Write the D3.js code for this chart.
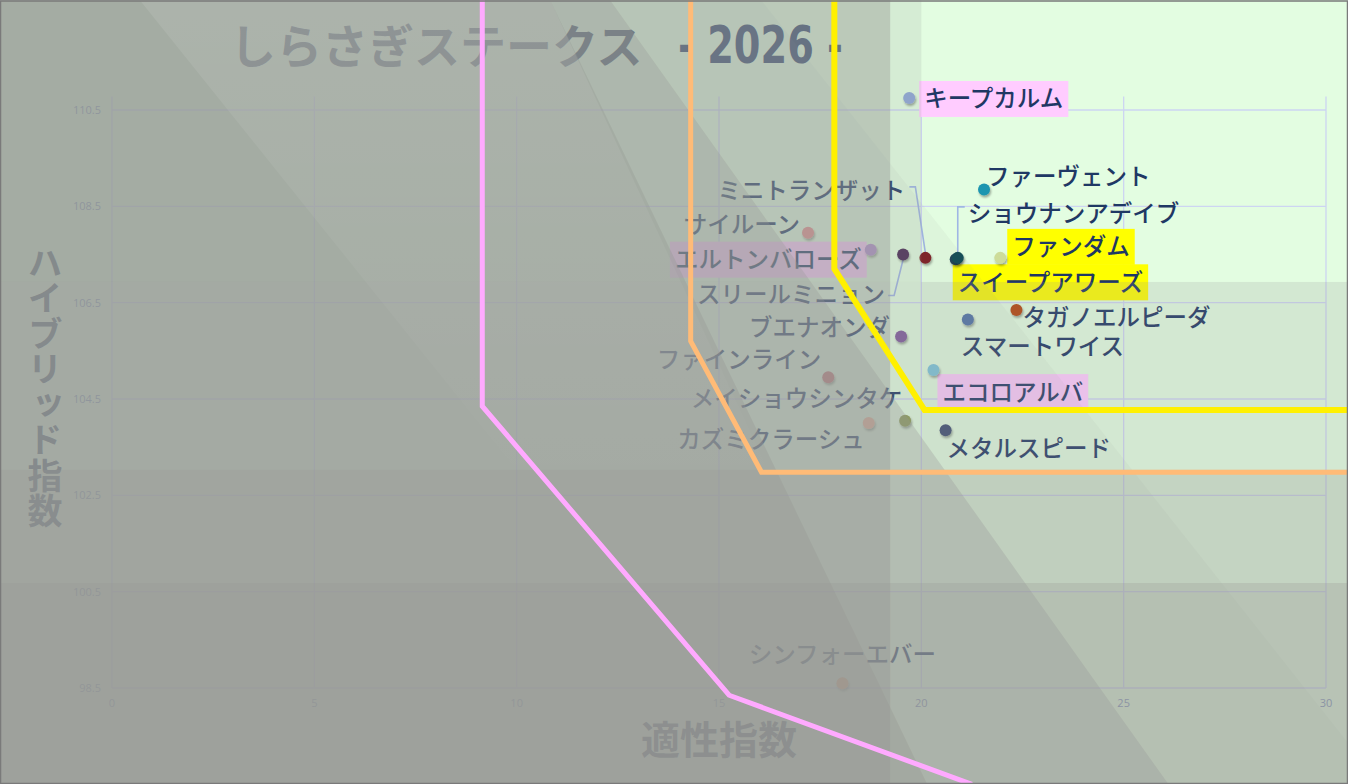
<!DOCTYPE html>
<html><head><meta charset="utf-8">
<script src="https://cdn.jsdelivr.net/npm/d3@7"></script>
<style>html,body{margin:0;padding:0;background:#9d9f9b;} svg{display:block}</style>
</head><body>
<svg id="c" width="1348" height="784"></svg>
<script>
// ---------------- data ----------------
const horses = ["キープカルム","ファーヴェント","ミニトランザット","スイープアワーズ","ショウナンアデイブ","ファンダム","サイルーン","エルトンバローズ","スリールミニョン","ブエナオンダ","ファインライン","メイショウシンタケ","カズミクラーシュ","タガノエルピーダ","スマートワイス","エコロアルバ","メタルスピード","シンフォーエバー"];
const tekisei = [19.7,21.55,20.1,20.85,20.9,21.95,17.2,18.75,19.55,19.5,17.7,19.6,18.7,22.35,21.15,20.3,20.6,18.05];
const hybrid  = [110.75,108.85,107.43,107.4,107.43,107.43,107.95,107.6,107.5,105.8,104.95,104.05,104.0,106.35,106.15,105.1,103.85,98.6];
const highlight = ["pink","","","yellow","","yellow","","pink","","","","","","","","pink","",""];
const xTicks = [0,5,10,15,20,25,30];
const yTicks = [98.5,100.5,102.5,104.5,106.5,108.5,110.5];
const titleMain = "しらさぎステークス";
const titleYear = "- 2026 -";
const xTitle = "適性指数";
const yTitle = "ハイブリッド指数";
// threshold polylines (data coordinates)
const pinkX = [9.15,9.15,15.25,21.25],  pinkY = [112.8,104.35,98.35,96.5];
const orangeX = [14.3,14.3,16.05,30.6], orangeY = [112.8,105.7,102.98,102.98];
const yellowX = [17.85,17.85,20.08,30.6], yellowY = [112.8,107.2,104.27,104.27];

// ---------------- layout / style ----------------
const W=1348,H=784;
const pointColors = ["#8ea6d6","#1d95b0","#7b1e22","#1b3f55","#0c4a52","#cddc9a","#e88c8c","#b78ed4","#4a2b55","#7e5a9c","#c56f73","#8c9c55","#f5b596","#b4450f","#4c6fa8","#7cc6dc","#3b4d6f","#f59b6a"];
const labelLayout = [
 {dx:15,dy:1,a:"start"},
 {dx:2,dy:-13,a:"start"},
 {dx:-20,dy:-67,a:"end",lead:"endRight"},
 {dx:2,dy:23,a:"start"},
 {dx:10,dy:-44,a:"start",lead:"startLeft"},
 {dx:12,dy:-11,a:"start"},
 {dx:-8,dy:-8,a:"end"},
 {dx:-9,dy:10,a:"end"},
 {dx:-18,dy:40,a:"end",lead:"endRightUp"},
 {dx:-11,dy:-9,a:"end"},
 {dx:-7,dy:-18,a:"end"},
 {dx:-3,dy:-22,a:"end"},
 {dx:-4,dy:16,a:"end"},
 {dx:6,dy:8,a:"start"},
 {dx:-7,dy:27,a:"start"},
 {dx:9,dy:22,a:"start"},
 {dx:1,dy:18,a:"start"},
 {dx:0,dy:-29,a:"middle"}
];

const svg=d3.select('#c');
const x=d3.scaleLinear().domain([0,30]).range([112,1326]);
const y=d3.scaleLinear().domain([98.5,110.5]).range([688,110]);
const JP = "'Noto Sans CJK JP','Noto Sans',sans-serif";
const GRAY = "#969895";

const defs=svg.append('defs');
const f=defs.append('filter').attr('id','sh').attr('x','-50%').attr('y','-50%').attr('width','200%').attr('height','200%');
f.append('feDropShadow').attr('dx',1).attr('dy',2).attr('stdDeviation',1.2).attr('flood-color','#000').attr('flood-opacity',0.35);

// base
svg.append('rect').attr('width',W).attr('height',H).attr('fill','#e3fde1');

// grid
const g=svg.append('g');
g.selectAll('.vg').data(xTicks).join('line')
 .attr('x1',d=>x(d)).attr('x2',d=>x(d)).attr('y1',y(110.78)).attr('y2',y(98.5))
 .attr('stroke','#cdd5f2').attr('stroke-width',1.3);
g.selectAll('.hg').data(yTicks).join('line')
 .attr('x1',x(0)).attr('x2',x(30)).attr('y1',d=>y(d)).attr('y2',d=>y(d))
 .attr('stroke','#cdd5f2').attr('stroke-width',1.3);
g.selectAll('.yt').data(yTicks).join('text')
 .attr('x',x(0)-11).attr('y',d=>y(d)+4).attr('text-anchor','end')
 .attr('font-family',"'Open Sans',sans-serif").attr('font-size',11).attr('fill','#7d8fbb')
 .text(d=>d.toFixed(1));
g.selectAll('.xt').data(xTicks).join('text')
 .attr('x',d=>x(d)).attr('y',y(98.5)+19).attr('text-anchor','middle')
 .attr('font-family',"'Open Sans',sans-serif").attr('font-size',11).attr('fill','#7d8fbb')
 .text(d=>d);

// axis titles
svg.append('text').attr('x',x(15)).attr('y',754).attr('text-anchor','middle')
 .attr('font-family',JP).attr('font-weight',700).attr('font-size',39).attr('fill','#44546a').text(xTitle);
svg.append('text').attr('x',45).attr('y',245)
 .attr('style','writing-mode:vertical-rl;text-orientation:upright;letter-spacing:0.5px')
 .attr('font-family',JP).attr('font-weight',700).attr('font-size',35).attr('fill','#44546a').text(yTitle);

// title
svg.append('text').attr('x',230).attr('y',63)
 .attr('font-family',JP).attr('font-weight',700).attr('font-size',46).attr('fill','#44546a').text(titleMain);
svg.append('text').attr('x',678).attr('y',63)
 .attr('font-family',"'Liberation Sans Narrow','DejaVu Sans Condensed',sans-serif").attr('font-weight',700)
 .attr('font-size',52).attr('fill','#34496f').attr('textLength',165).attr('lengthAdjust','spacingAndGlyphs')
 .text(titleYear);

// points & labels
const pts = horses.map((n,i)=>({name:n,x:tekisei[i],y:hybrid[i],hl:highlight[i],c:pointColors[i],L:labelLayout[i]}));
const hlColor={pink:"#ffccff",yellow:"#ffff00"};
const labG=svg.append('g');
pts.forEach(p=>{
  const px=x(p.x), py=y(p.y);
  const tx=px+p.L.dx, ty=py+p.L.dy;
  const t=labG.append('text').attr('x',tx).attr('y',ty).attr('dy','0.36em')
    .attr('text-anchor',p.L.a).attr('font-family',JP).attr('font-weight',500)
    .attr('font-size',23.5).attr('fill','#1f3864').text(p.name);
  const bb=t.node().getBBox();
  if(p.hl){
    labG.insert('rect','text').attr('x',bb.x-5).attr('y',ty-18).attr('width',bb.width+10).attr('height',36)
      .attr('fill',hlColor[p.hl]);
  }
  let path=null;
  if(p.L.lead==="endRight") path=[[bb.x+bb.width+4,ty-4],[bb.x+bb.width+10,ty-4],[px,py-5]];
  if(p.L.lead==="startLeft") path=[[bb.x-3,ty-7],[px,ty-7],[px,py-5]];
  if(p.L.lead==="endRightUp") path=[[bb.x+bb.width+3,ty+1],[bb.x+bb.width+9,ty+1],[px,py+5]];
  if(path) labG.append('path').attr('d',d3.line()(path)).attr('fill','none').attr('stroke','#9fb6e4').attr('stroke-width',1.6);
  p.px=px; p.py=py;
});
svg.append('g').selectAll('circle').data(pts).join('circle')
 .attr('cx',d=>d.px).attr('cy',d=>d.py).attr('r',6).attr('fill',d=>d.c).attr('filter','url(#sh)');

// ---------------- overlays (decorative glass shading, in data units) ----------------
const ov=svg.append('g');
const yTop=112.78, yBot=96.51, xL=-2.8, xR=30.6;
// diagonal shards: region left of line from (topX,yTop) to (botX,yBot)
const shardTopX=[10.83,12.31,16.04], shardBotX=[20.14,26.1,31.34], shardA=[0.35,0.3,0.08];
shardTopX.forEach((t,i)=>{
  const poly=[[xL,yTop],[t,yTop],[shardBotX[i],yBot],[xL,yBot]].map(d=>[x(d[0]),y(d[1])]);
  ov.append('path').attr('d',d3.line()(poly)+'Z').attr('fill',GRAY).attr('fill-opacity',shardA[i]);
});
// column shading: x<19.23 full height, x<20 top band only
const topBandY=106.93;
ov.append('rect').attr('x',0).attr('y',0).attr('width',x(19.23)).attr('height',H).attr('fill',GRAY).attr('fill-opacity',0.42);
ov.append('rect').attr('x',0).attr('y',0).attr('width',x(20.0)).attr('height',y(topBandY)).attr('fill',GRAY).attr('fill-opacity',0.17);
// horizontal bands
const rowY=[106.93,103.03,100.68], rowA=[0.2,0.25,0.27];
rowY.forEach((r,i)=>ov.append('rect').attr('x',0).attr('y',y(r)).attr('width',W).attr('height',H-y(r))
  .attr('fill',GRAY).attr('fill-opacity',rowA[i]));
// faint light wedge at the top-left
const wg=defs.append('linearGradient').attr('id','wg').attr('gradientUnits','userSpaceOnUse')
  .attr('x1',0).attr('y1',0).attr('x2',0).attr('y2',y(102.5));
wg.append('stop').attr('offset',0).attr('stop-color','#fff').attr('stop-opacity',0.09);
wg.append('stop').attr('offset',1).attr('stop-color','#fff').attr('stop-opacity',0);
const wedge=[[0.69,yTop],[10.83,yTop],[16.5,102.5],[10.5,102.5]].map(d=>[x(d[0]),y(d[1])]);
ov.append('path').attr('d',d3.line()(wedge)+'Z').attr('fill','url(#wg)');

// ---------------- threshold lines ----------------
const ln=d3.line().x(d=>x(d[0])).y(d=>y(d[1]));
[[pinkX,pinkY,'#ffaaff',5],[orangeX,orangeY,'#ffbb77',5],[yellowX,yellowY,'#fff000',6]].forEach(([xs,ys,c,w])=>{
  svg.append('path').attr('d',ln(xs.map((v,i)=>[v,ys[i]]))).attr('fill','none').attr('stroke',c).attr('stroke-width',w).attr('stroke-linejoin','miter');
});

// frame
svg.append('rect').attr('x',0.5).attr('y',1).attr('width',W-1).attr('height',H-1.5).attr('fill','none').attr('stroke','#7a7a7a').attr('stroke-width',1.5);
</script>
</body></html>
